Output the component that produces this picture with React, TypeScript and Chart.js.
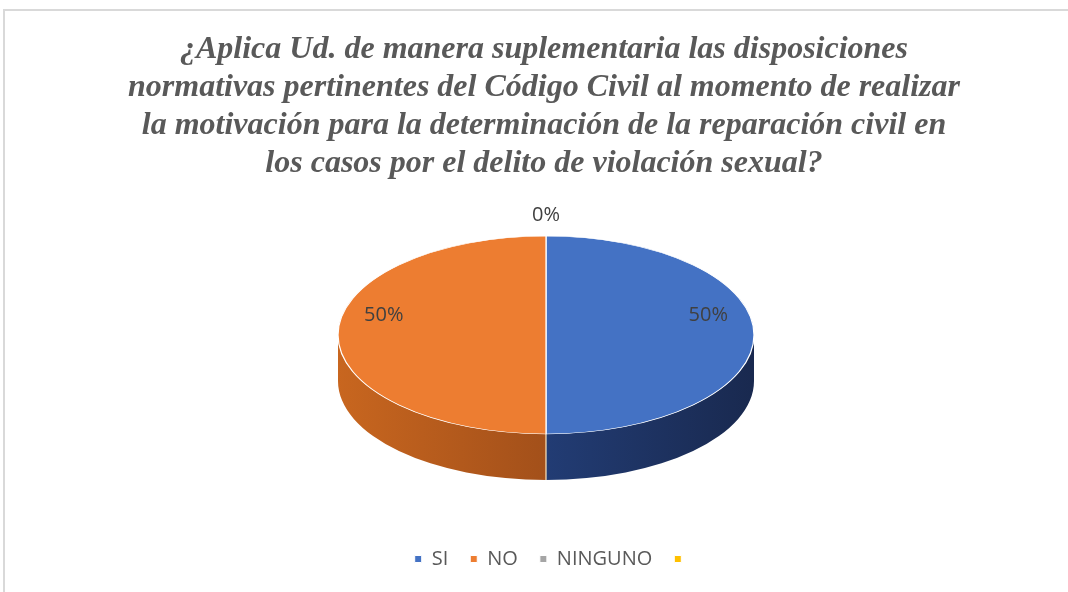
import React, { useEffect, useRef } from 'react';
import { Chart, registerables } from 'chart.js';

Chart.register(...registerables);

// ---------- data ----------
const titleLines = [
  '¿Aplica Ud. de manera suplementaria las disposiciones',
  'normativas pertinentes del Código Civil al momento de realizar',
  'la motivación para la determinación de la reparación civil en',
  'los casos por el delito de violación sexual?',
];
const categories = ['SI', 'NO', 'NINGUNO', ''];
const values = [50, 50, 0, 0];
const pctLabels = ['50%', '50%', '0%', ''];
const topColors = ['#4472C4', '#ED7D31', '#A5A5A5', '#FFC000'];
const sideLight = ['#223C74', '#C8661F', '#7C7C7C', '#BF9000'];
const sideDark = ['#19294F', '#A3501A', '#5E5E5E', '#8F6C00'];

// ---------- 3D pie geometry (projection of the library's arc) ----------
const PIE = { cx: 546, cy: 335, rx: 208, ry: 99, depth: 46 };
const LEGEND_SHIFT = 9;

const pie3d = {
  id: 'pie3d',
  afterLayout(chart: any) {
    if (chart.legend) {
      chart.legend.left += LEGEND_SHIFT;
      chart.legend.right += LEGEND_SHIFT;
    }
  },
  beforeDatasetsDraw(chart: any) {
    const ctx = chart.ctx as CanvasRenderingContext2D;
    const meta = chart.getDatasetMeta(0);
    const arcs = meta.data as any[];
    if (!arcs.length) return;
    const { cx, cy, rx, ry, depth } = PIE;
    // side walls
    arcs.forEach((arc, i) => {
      const p = arc.getProps(['startAngle', 'endAngle'], true);
      const s = Math.max(p.startAngle, 0);
      const e = Math.min(p.endAngle, Math.PI);
      if (e <= s) return;
      const x1 = cx + rx * Math.cos(e);
      const x2 = cx + rx * Math.cos(s);
      const g = ctx.createLinearGradient(Math.min(x1, x2), 0, Math.max(x1, x2), 0);
      g.addColorStop(0, sideLight[i]);
      g.addColorStop(1, sideDark[i]);
      ctx.save();
      ctx.beginPath();
      ctx.ellipse(cx, cy, rx, ry, 0, s, e);
      ctx.ellipse(cx, cy + depth, rx, ry, 0, e, s, true);
      ctx.closePath();
      ctx.fillStyle = g;
      ctx.fill();
      ctx.restore();
    });
    // slice boundary on the front wall
    arcs.forEach((arc) => {
      const p = arc.getProps(['startAngle'], true);
      const a = p.startAngle;
      if (a > 0 && a < Math.PI) {
        const x = cx + rx * Math.cos(a);
        const y = cy + ry * Math.sin(a);
        ctx.save();
        ctx.strokeStyle = 'rgba(255,230,190,0.8)';
        ctx.lineWidth = 1.5;
        ctx.beginPath();
        ctx.moveTo(x, y);
        ctx.lineTo(x, y + depth);
        ctx.stroke();
        ctx.restore();
      }
    });
    // project the library's circular arcs onto the ellipse
    const o = arcs[0].getProps(['x', 'y', 'outerRadius'], true);
    ctx.save();
    ctx.translate(cx, cy);
    ctx.scale(rx / o.outerRadius, ry / o.outerRadius);
    ctx.translate(-o.x, -o.y);
  },
  afterDatasetsDraw(chart: any) {
    const ctx = chart.ctx as CanvasRenderingContext2D;
    ctx.restore();
    const meta = chart.getDatasetMeta(0);
    const arcs = meta.data as any[];
    const { cx, cy, rx, ry } = PIE;
    ctx.save();
    ctx.font = '20px "Open Sans"';
    ctx.fillStyle = '#404040';
    ctx.textAlign = 'center';
    ctx.textBaseline = 'middle';
    const drawn: string[] = [];
    arcs.forEach((arc, i) => {
      const text = pctLabels[i];
      if (!text) return;
      const p = arc.getProps(['startAngle', 'endAngle'], true);
      const mid = (p.startAngle + p.endAngle) / 2;
      let x: number, y: number;
      if (values[i] === 0) {
        x = cx + rx * Math.cos(mid);
        y = cy + ry * Math.sin(mid) - 21;
      } else {
        x = cx + rx * 0.78 * Math.cos(mid);
        y = cy + ry * 0.78 * Math.sin(mid) - 20;
      }
      const key = Math.round(x) + ',' + Math.round(y);
      if (drawn.includes(key)) return;
      drawn.push(key);
      ctx.fillText(text, x, y);
    });
    ctx.restore();
  },
};

export default function App() {
  const ref = useRef<HTMLCanvasElement>(null);
  useEffect(() => {
    document.body.style.margin = '0';
    document.body.style.overflow = 'hidden';
    const chart = new Chart(ref.current as HTMLCanvasElement, {
      type: 'pie',
      data: {
        labels: categories,
        datasets: [
          {
            data: values,
            backgroundColor: topColors,
            borderColor: '#ffffff',
            borderWidth: 1,
            clip: false as any,
          } as any,
        ],
      },
      options: {
        responsive: false,
        animation: false,
        devicePixelRatio: 1,
        layout: { padding: { top: 31, left: 20, right: 0, bottom: 13 } },
        plugins: {
          title: {
            display: true,
            text: titleLines,
            color: '#595959',
            font: { family: '"Liberation Serif"', size: 32, style: 'italic', weight: 'bold', lineHeight: 1.1875 },
            padding: { top: 0, bottom: 10 },
          },
          legend: {
            position: 'bottom',
            labels: {
              boxWidth: 7,
              boxHeight: 7,
              padding: 22,
              color: '#595959',
              font: { family: '"Open Sans"', size: 20 },
            },
          },
          tooltip: { enabled: false },
        },
      },
      plugins: [pie3d],
    });
    return () => chart.destroy();
  }, []);
  return (
    <div style={{ position: 'relative', width: 1068, height: 592 }}>
      <div
        style={{
          position: 'absolute',
          left: 3,
          top: 9,
          width: 1100,
          height: 700,
          border: '2px solid #D9D9D9',
        }}
      />
      <canvas ref={ref} width={1068} height={592} style={{ position: 'absolute', left: 0, top: 0 }} />
    </div>
  );
}
